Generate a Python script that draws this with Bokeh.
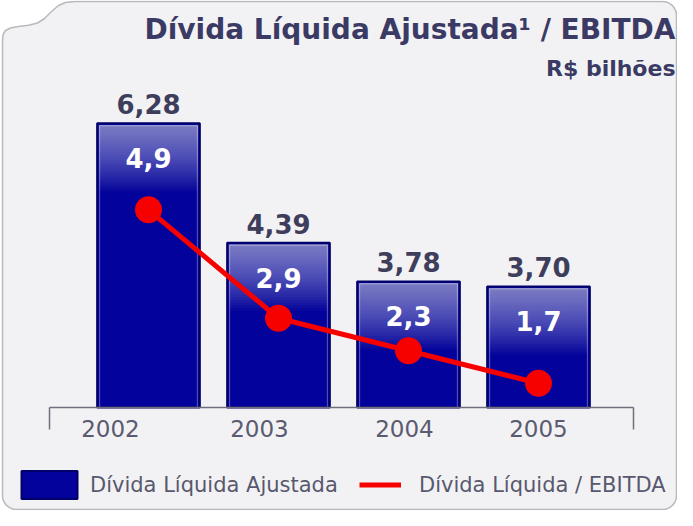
import numpy as np
from bokeh.plotting import figure
from bokeh.models import (Range1d, LinearAxis, FixedTicker, ColumnDataSource,
                          Legend, LegendItem, Label)
from bokeh.core.properties import value
from bokeh.embed import file_html
from bokeh.resources import INLINE

# ---------------- data ----------------
years = ["2002", "2003", "2004", "2005"]
debt = [6.28, 4.39, 3.78, 3.70]            # Dívida Líquida Ajustada (R$ bilhões)
ratio = [4.9, 2.9, 2.3, 1.7]               # Dívida Líquida / EBITDA
debt_labels = ["6,28", "4,39", "3,78", "3,70"]
ratio_labels = ["4,9", "2,9", "2,3", "1,7"]

# ---------------- layout / style ----------------
W, H = 677, 510
FONT = value("DejaVu Sans")
BASE = 1.785                  # baseline of the (non-zero based) bar scale
PX_PER_UNIT = 63.22
BAR_W = 0.79
XPX = 130.0                   # pixels per category step
LABEL_SHIFT_PX = [-38, -19, -4, 0]

x = list(range(len(years)))

p = figure(width=W, height=H, output_backend="svg", toolbar_location=None,
           x_range=Range1d(-148 / XPX, (W - 148) / XPX),
           y_range=Range1d(BASE - (H - 407) / PX_PER_UNIT, BASE + 407 / PX_PER_UNIT),
           x_axis_type=None, y_axis_type=None, min_border=0)
p.extra_y_ranges = {"ratio": Range1d(-0.648, 8.762), "px": Range1d(H, 0)}
p.extra_x_ranges = {"px": Range1d(0, W)}
p.outline_line_color = None
p.background_fill_color = "white"
p.border_fill_color = "white"
p.grid.visible = False


# ---------------- rounded frame with notch (decoration, pixel space) ----------------
def arc(cx, cy, r, a0, a1, n=10):
    t = np.radians(np.linspace(a0, a1, n))
    return list(cx + r * np.cos(t)), list(cy + r * np.sin(t))

fx, fy = [74.0, 662.0], [1.0, 1.0]
ax_, ay_ = arc(662, 15, 14, -90, 0); fx += ax_; fy += ay_
ax_, ay_ = arc(662, 495, 14, 0, 90); fx += ax_; fy += ay_
ax_, ay_ = arc(16, 495, 14, 90, 180); fx += ax_; fy += ay_
fx += [2, 2.6, 5, 10, 18, 28, 37, 44, 51, 58, 65, 74]
fy += [40, 34, 30, 27.5, 26, 24.8, 22.5, 18, 11, 5, 2, 1]
p.patch(fx, fy, x_range_name="px", y_range_name="px",
        fill_color="#f2f2f4", line_color="#b9b9bd", line_width=1.5)

src = ColumnDataSource(dict(x=x, top=debt, dl=debt_labels, r=ratio, rl=ratio_labels))

# ---------------- bars ----------------
bars = p.vbar(x="x", top="top", bottom=BASE, width=BAR_W, source=src,
              fill_color="#03039b", line_color="#000068", line_width=2)

# top-down light gradient on each bar
N, G = 26, 68.0 / PX_PER_UNIT
gx, gt, gb = [], [], []
for xi, v in zip(x, debt):
    for i in range(N):
        gx.append(xi)
        gt.append(v - 1.5 / PX_PER_UNIT)
        gb.append(v - (i + 1) * G / N)
p.vbar(x=gx, top=gt, bottom=gb, width=BAR_W - 3 / XPX,
       fill_color="white", fill_alpha=0.028, line_color=None)
# faint inner highlight edge
p.vbar(x=x, top=[v - 2.5 / PX_PER_UNIT for v in debt], bottom=BASE,
       width=BAR_W - 5 / XPX, fill_color=None,
       line_color="white", line_alpha=0.35, line_width=1)

# ---------------- ratio line ----------------
line = p.line("x", "r", source=src, y_range_name="ratio",
              line_color="#f70000", line_width=5)
p.scatter("x", "r", source=src, y_range_name="ratio", size=27,
          fill_color="#f70000", line_color=None)

# ---------------- labels ----------------
p.text("x", "top", text="dl", source=src, text_font=FONT, text_font_style="bold",
       text_font_size="26px", text_color="#3e3e5c", text_align="center",
       text_baseline="alphabetic", y_offset=-19)
p.text("x", "top", text="rl", source=src, text_font=FONT, text_font_style="bold",
       text_font_size="26px", text_color="white", text_align="center",
       text_baseline="alphabetic", y_offset=35)

# ---------------- axis bracket + year labels ----------------
xl, xr = (49 - 148) / XPX, (633 - 148) / XPX
ax_line = LinearAxis(fixed_location=BASE, bounds=(xl, xr),
                     ticker=FixedTicker(ticks=[xl, xr]),
                     major_tick_out=22, major_tick_in=0,
                     minor_tick_out=0, minor_tick_in=0,
                     axis_line_color="#6f6f7e", axis_line_width=1.5,
                     major_tick_line_color="#6f6f7e", major_tick_line_width=1.5,
                     major_label_text_color=None)
p.add_layout(ax_line, "below")

tick_pos = [xi + s / XPX for xi, s in zip(x, LABEL_SHIFT_PX)]
ax_lab = LinearAxis(fixed_location=BASE, ticker=FixedTicker(ticks=tick_pos),
                    major_label_overrides={t: y for t, y in zip(tick_pos, years)},
                    axis_line_color=None, major_tick_out=0, major_tick_in=0,
                    minor_tick_out=0, minor_tick_in=0,
                    major_label_text_font="DejaVu Sans",
                    major_label_text_font_size="23px",
                    major_label_text_color="#5a5a70",
                    major_label_standoff=12)
p.add_layout(ax_lab, "below")

# ---------------- titles ----------------
p.add_layout(Label(x=675, y=29, x_range_name="px", y_range_name="px",
                   text="Dívida Líquida Ajustada¹ / EBITDA", text_font="DejaVu Sans",
                   text_font_style="bold", text_font_size="28px",
                   text_color="#3a3a64", text_align="right", text_baseline="alphabetic"))
p.add_layout(Label(x=675, y=68, x_range_name="px", y_range_name="px",
                   text="R$ bilhões", text_font="DejaVu Sans",
                   text_font_style="bold", text_font_size="22px",
                   text_color="#3a3a64", text_align="right", text_baseline="alphabetic"))

# ---------------- legend ----------------
common = dict(orientation="horizontal", glyph_height=35, padding=0, margin=0,
              border_line_alpha=0, background_fill_alpha=0,
              label_text_font="DejaVu Sans", label_text_font_size="21px",
              label_text_color="#58586e")
leg_bar = Legend(items=[LegendItem(label="Dívida Líquida Ajustada", renderers=[bars])],
                 location=(14, 8), glyph_width=70, label_standoff=6, **common)
leg_line = Legend(items=[LegendItem(label="Dívida Líquida / EBITDA", renderers=[line])],
                  location=(359, 8), glyph_width=42, label_standoff=18, **common)
p.add_layout(leg_bar)
p.add_layout(leg_line)

open("out.html", "w").write(file_html(p, INLINE))
